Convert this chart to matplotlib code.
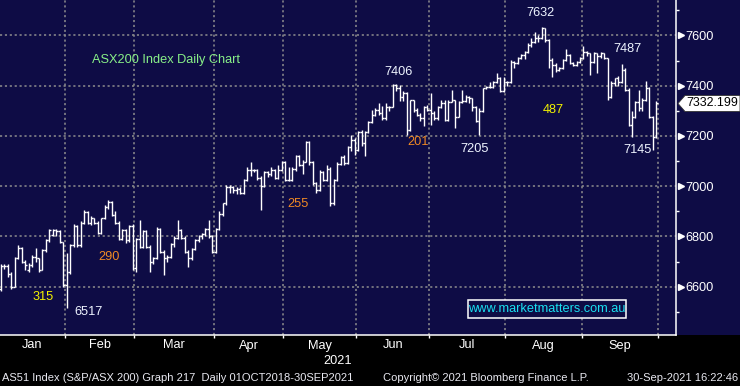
import matplotlib
matplotlib.use("Agg")
import matplotlib.pyplot as plt
from matplotlib.collections import LineCollection
from matplotlib.patches import Rectangle, Polygon
from matplotlib import transforms
import numpy as np

# ---------------- data ----------------
months = ["Jan", "Feb", "Mar", "Apr", "May", "Jun", "Jul", "Aug", "Sep"]
month_trading_days = [19, 20, 23, 20, 21, 21, 22, 22, 22]
y_ticks = [6600, 6800, 7000, 7200, 7400, 7600]
y_minor = [6500, 6700, 6900, 7100, 7300, 7500, 7700]
last_price = "7332.199"

opens = [6590, 6683, 6683, 6650, 6600, 6713, 6755, 6700, 6667, 6687,
         6720, 6713, 6667, 6746, 6786, 6806, 6826, 6820, 6779, 6607,
         6660, 6766, 6840, 6766, 6853, 6899, 6853, 6872, 6853, 6813,
         6872, 6919, 6939, 6886, 6855, 6790, 6826, 6785, 6840, 6673,
         6790, 6760, 6820, 6759, 6700, 6713, 6830, 6740, 6713, 6720,
         6770, 6795, 6826, 6795, 6740, 6713, 6750, 6785, 6800, 6810,
         6830, 6800, 6740, 6830, 6890, 6932, 6998, 6995, 6985, 6990,
         6975, 7025, 7065, 7065, 7065, 7032, 7000, 7058, 7050, 7065,
         7032, 7065, 7098, 7025, 7025, 7068, 7120, 7085, 7098, 7177,
         7098, 7012, 6985, 7058, 7025, 7070, 6932, 7025, 7090, 7118,
         7092, 7157, 7184, 7144, 7216, 7170, 7217, 7257, 7284, 7304,
         7290, 7270, 7317, 7317, 7403, 7390, 7356, 7370, 7224, 7343,
         7304, 7284, 7270, 7317, 7304, 7290, 7270, 7317, 7330, 7264,
         7337, 7343, 7277, 7337, 7340, 7356, 7350, 7317, 7260, 7300,
         7390, 7396, 7396, 7416, 7430, 7380, 7416, 7416, 7496, 7490,
         7509, 7522, 7535, 7562, 7575, 7589, 7590, 7628, 7580, 7502,
         7483, 7463, 7470, 7502, 7522, 7490, 7483, 7496, 7509, 7535,
         7529, 7496, 7529, 7520, 7530, 7510, 7356, 7410, 7430, 7416,
         7463, 7383, 7244, 7277, 7337, 7310, 7343, 7390, 7277, 7197]
highs = [6690, 6690, 6690, 6660, 6720, 6765, 6760, 6705, 6695, 6725,
         6753, 6715, 6750, 6790, 6830, 6830, 6830, 6825, 6780, 6735,
         6770, 6850, 6845, 6860, 6905, 6900, 6880, 6875, 6860, 6875,
         6925, 6945, 6940, 6900, 6860, 6830, 6830, 6845, 6850, 6795,
         6866, 6825, 6825, 6765, 6720, 6836, 6832, 6745, 6725, 6775,
         6800, 6866, 6830, 6800, 6745, 6755, 6790, 6805, 6815, 6835,
         6866, 6805, 6835, 6900, 6935, 7005, 7005, 7000, 6995, 6995,
         7030, 7078, 7098, 7070, 7068, 7040, 7062, 7062, 7078, 7068,
         7085, 7100, 7100, 7078, 7075, 7124, 7124, 7105, 7180, 7180,
         7100, 7015, 7065, 7060, 7085, 7075, 7030, 7095, 7120, 7125,
         7160, 7204, 7190, 7220, 7225, 7220, 7260, 7304, 7310, 7330,
         7320, 7330, 7320, 7406, 7406, 7403, 7380, 7375, 7345, 7345,
         7310, 7290, 7320, 7325, 7370, 7300, 7320, 7345, 7343, 7345,
         7383, 7345, 7340, 7383, 7363, 7360, 7352, 7320, 7310, 7392,
         7400, 7416, 7420, 7450, 7435, 7436, 7420, 7502, 7500, 7515,
         7525, 7540, 7568, 7589, 7615, 7600, 7632, 7630, 7585, 7510,
         7490, 7475, 7505, 7545, 7525, 7495, 7500, 7515, 7556, 7540,
         7532, 7535, 7532, 7535, 7532, 7512, 7420, 7432, 7440, 7487,
         7470, 7390, 7300, 7340, 7383, 7350, 7420, 7395, 7280, 7340]
lows = [6585, 6670, 6640, 6590, 6600, 6710, 6695, 6665, 6660, 6680,
        6700, 6660, 6665, 6740, 6780, 6800, 6800, 6775, 6600, 6517,
        6650, 6760, 6760, 6760, 6850, 6850, 6845, 6850, 6810, 6810,
        6870, 6910, 6880, 6850, 6785, 6785, 6775, 6780, 6668, 6660,
        6755, 6755, 6755, 6660, 6690, 6710, 6735, 6648, 6700, 6715,
        6760, 6790, 6790, 6735, 6680, 6705, 6745, 6780, 6790, 6800,
        6795, 6735, 6735, 6825, 6880, 6925, 6972, 6975, 6970, 6970,
        6970, 7020, 7040, 7055, 7025, 6906, 6995, 7035, 7040, 7030,
        7030, 7060, 7020, 7020, 7020, 7060, 7080, 7050, 7095, 7085,
        7005, 6972, 6980, 7020, 7020, 6920, 6925, 7020, 7085, 7085,
        7090, 7140, 7124, 7140, 7160, 7120, 7210, 7250, 7280, 7285,
        7265, 7265, 7300, 7315, 7380, 7340, 7340, 7205, 7220, 7295,
        7280, 7260, 7240, 7300, 7245, 7265, 7265, 7310, 7260, 7260,
        7335, 7231, 7275, 7330, 7335, 7330, 7300, 7255, 7205, 7295,
        7385, 7390, 7390, 7410, 7376, 7375, 7400, 7410, 7470, 7485,
        7505, 7505, 7530, 7555, 7570, 7575, 7585, 7575, 7470, 7435,
        7455, 7458, 7465, 7500, 7485, 7478, 7480, 7490, 7505, 7520,
        7443, 7490, 7450, 7510, 7505, 7345, 7350, 7400, 7400, 7410,
        7380, 7240, 7197, 7270, 7300, 7300, 7340, 7270, 7145, 7190]
closes = [6683, 6683, 6650, 6600, 6713, 6755, 6700, 6687, 6687, 6720,
          6713, 6667, 6746, 6786, 6826, 6826, 6820, 6779, 6607, 6660,
          6766, 6840, 6766, 6853, 6899, 6853, 6872, 6853, 6813, 6872,
          6919, 6939, 6886, 6855, 6790, 6826, 6785, 6840, 6673, 6790,
          6760, 6820, 6759, 6700, 6713, 6830, 6740, 6713, 6720, 6770,
          6795, 6826, 6795, 6740, 6713, 6750, 6785, 6800, 6810, 6830,
          6800, 6740, 6830, 6890, 6932, 6998, 6995, 6985, 6990, 6975,
          7025, 7065, 7065, 7065, 7032, 7000, 7058, 7050, 7065, 7032,
          7065, 7098, 7025, 7025, 7068, 7120, 7085, 7098, 7177, 7098,
          7012, 6985, 7058, 7025, 7070, 6932, 7025, 7090, 7118, 7092,
          7157, 7184, 7144, 7216, 7170, 7217, 7257, 7284, 7304, 7290,
          7270, 7317, 7317, 7403, 7390, 7356, 7370, 7224, 7343, 7304,
          7284, 7270, 7317, 7304, 7290, 7270, 7317, 7330, 7264, 7337,
          7343, 7277, 7337, 7340, 7356, 7350, 7317, 7260, 7300, 7390,
          7396, 7396, 7416, 7430, 7380, 7416, 7416, 7496, 7490, 7509,
          7522, 7535, 7562, 7575, 7589, 7590, 7628, 7580, 7502, 7483,
          7463, 7470, 7502, 7522, 7490, 7483, 7496, 7509, 7535, 7529,
          7496, 7529, 7520, 7530, 7510, 7356, 7410, 7430, 7416, 7463,
          7383, 7244, 7277, 7337, 7310, 7343, 7390, 7277, 7197, 7332]

ann_texts = ["315", "6517", "290", "255", "7406", "201", "7205",
             "7632", "487", "7487", "7145"]

# ---------------- style ----------------
W, H = 740, 386
NAVY = "#0e0c45"
GRID = "#8e8e8e"
WHITE = "#ffffff"
ANN_WHITE = "#eef4ff"
YELLOW = "#f2f200"
ORANGE = "#f08a24"
GREEN = "#88f088"
CYAN = "#19e0f0"
FONT = "Liberation Sans"

AX_L, AX_R, AX_T, AX_B = 0, 676, 0, 335   # pixel box of plot area


def fx(px):
    return px / W


def fy(py):
    return 1 - py / H


fig = plt.figure(figsize=(W / 100, H / 100), dpi=100, facecolor="black")
# navy panel behind the right axis (drawn beneath the axes)
fig.patches.append(Rectangle((fx(AX_R), fy(AX_B)), fx(W - AX_R), (AX_B - AX_T) / H,
                             transform=fig.transFigure, facecolor=NAVY,
                             edgecolor="none", zorder=-5))
ax = fig.add_axes([fx(AX_L), fy(AX_B), fx(AX_R - AX_L), (AX_B - AX_T) / H])
ax.set_facecolor(NAVY)

n = len(closes)
xs = np.arange(n)
segs = []
for i in range(n):
    segs.append([(xs[i], lows[i]), (xs[i], highs[i])])
    segs.append([(xs[i] - 0.5, opens[i]), (xs[i], opens[i])])
    segs.append([(xs[i], closes[i]), (xs[i] + 0.5, closes[i])])
ax.add_collection(LineCollection(segs, colors=WHITE, linewidths=1.0,
                                 capstyle="butt", zorder=3))

ax.set_xlim(-0.242, 194.68)
ax.set_ylim(6408, 7741)

bounds = np.cumsum(month_trading_days) - 0.5
starts = np.concatenate([[-0.5], bounds[:-1]])
centers = (starts + bounds) / 2

ax.set_xticks(bounds)
ax.set_xticklabels([])
ax.tick_params(axis="x", which="major", length=2.5, width=1.0, color=WHITE,
               direction="out")
ax.set_yticks(y_ticks)
ax.set_yticks(y_minor, minor=True)
ax.yaxis.tick_right()
ax.tick_params(axis="y", which="major", length=0, pad=7.0, labelsize=9.2,
               labelcolor=WHITE)
ax.tick_params(axis="y", which="minor", length=2.5, width=1.0, color=WHITE,
               direction="out")
for lab in ax.get_yticklabels():
    lab.set_fontfamily(FONT)

ax.grid(True, which="major", color=GRID, linewidth=1.1,
        linestyle=(0, (1.4, 1.8)), zorder=1)
ax.set_axisbelow(True)

for s in ["left", "top"]:
    ax.spines[s].set_visible(False)
for s in ["bottom", "right"]:
    ax.spines[s].set_color(WHITE)
    ax.spines[s].set_linewidth(1.1)

# arrow markers on major y ticks
btr = transforms.blended_transform_factory(ax.transAxes, ax.transData)
ax.plot([1 + 4.6 / (AX_R - AX_L)] * len(y_ticks), y_ticks, linestyle="none",
        marker=">", markersize=5.0, color=WHITE, transform=btr, clip_on=False,
        zorder=5)

# month labels
xtr = transforms.blended_transform_factory(ax.transData, ax.transAxes)
for c, m in zip(centers, months):
    ax.text(c, -10.5 / (AX_B - AX_T), m, transform=xtr, ha="center", va="center",
            color=WHITE, fontsize=9.2, fontfamily=FONT)
fig.text(fx(338), fy(361), "2021", ha="center", va="center", color=WHITE,
         fontsize=9.2, fontfamily=FONT)

# title
fig.text(fx(92), fy(60), "ASX200 Index Daily Chart", ha="left", va="center",
         color=GREEN, fontsize=9.2, fontfamily=FONT)

# annotations
ann_pos = [(43, 297), (88.5, 312), (109.5, 257.5), (298, 204), (398, 72),
           (418, 142), (474.5, 148.5), (540.5, 13), (553.5, 110), (627, 49),
           (637.5, 149.5)]
ann_cols = [YELLOW, ANN_WHITE, ORANGE, ORANGE, ANN_WHITE, ORANGE, ANN_WHITE,
            ANN_WHITE, YELLOW, ANN_WHITE, ANN_WHITE]
for t, (px, py), c in zip(ann_texts, ann_pos, ann_cols):
    fig.text(fx(px), fy(py), t, ha="center", va="center", color=c,
             fontsize=9.2, fontfamily=FONT, zorder=6)

# website box
fig.patches.append(Rectangle((fx(468), fy(318)), fx(626 - 468), (318 - 300) / H,
                             transform=fig.transFigure, facecolor=NAVY,
                             edgecolor=WHITE, linewidth=1.1, zorder=4))
fig.text(fx(547), fy(309), "www.marketmatters.com.au", ha="center", va="center",
         color=CYAN, fontsize=9.2, fontfamily=FONT, zorder=6)

# last price flag
py0 = 103.5
pts = [(678, py0), (685, py0 - 8), (740, py0 - 8), (740, py0 + 8), (685, py0 + 8)]
fig.patches.append(Polygon([(fx(a), fy(b)) for a, b in pts], closed=True,
                           transform=fig.transFigure, facecolor=WHITE,
                           edgecolor="#333333", linewidth=0.6, zorder=7))
fig.text(fx(686), fy(py0), last_price, ha="left", va="center", color="black",
         fontsize=8.9, fontfamily=FONT, zorder=8)

# footer
FOOT = "#e8e8f0"
fig.text(fx(2), fy(378), "AS51 Index (S&P/ASX 200) Graph 217  Daily 01OCT2018-30SEP2021",
         ha="left", va="center", color=FOOT, fontsize=8.0, fontfamily=FONT)
fig.text(fx(383), fy(378), "Copyright\u00a9 2021 Bloomberg Finance L.P.",
         ha="left", va="center", color=FOOT, fontsize=8.0, fontfamily=FONT)
fig.text(fx(738), fy(378), "30-Sep-2021 16:22:46", ha="right", va="center",
         color=FOOT, fontsize=8.0, fontfamily=FONT)

fig.savefig("out.png", dpi=100, facecolor="black")
